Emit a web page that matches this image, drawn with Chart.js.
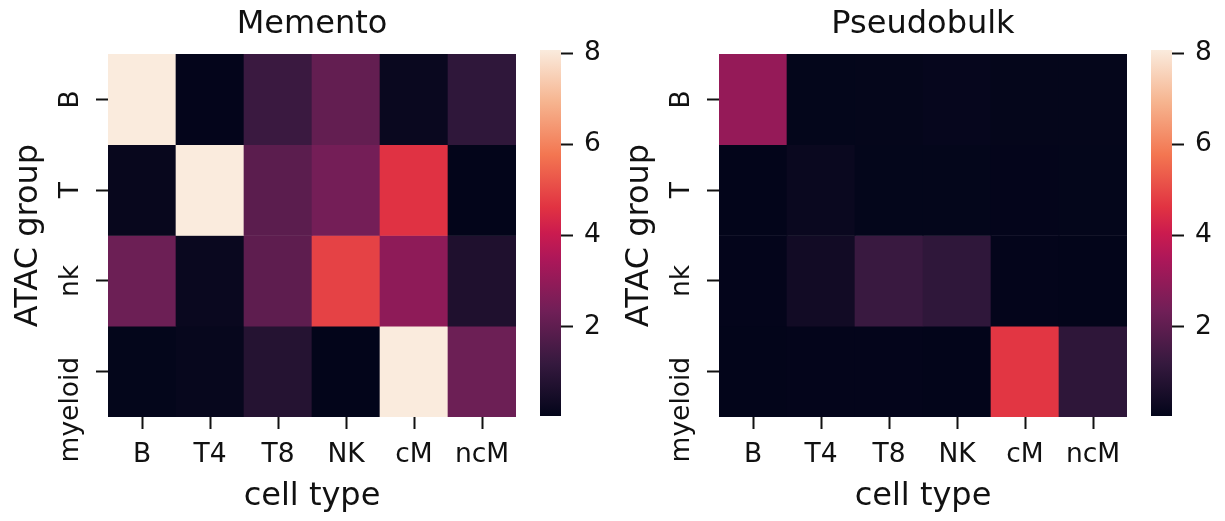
<!DOCTYPE html>
<html>
<head>
<meta charset="utf-8">
<script src="https://cdn.jsdelivr.net/npm/chart.js@4.4.1/dist/chart.umd.min.js"></script>
<style>
html, body { margin: 0; padding: 0; background: #ffffff; }
#wrap { position: relative; width: 1225px; height: 521px; overflow: hidden; background: #ffffff; }
#wrap canvas { position: absolute; left: 0; top: 0; }
</style>
</head>
<body>
<div id="wrap">
  <canvas id="hmL" width="1225" height="521"></canvas>
  <canvas id="cbL" width="1225" height="521"></canvas>
  <canvas id="hmR" width="1225" height="521"></canvas>
  <canvas id="cbR" width="1225" height="521"></canvas>
</div>
<script>
// ---------------- data ----------------
const cellTypes = ['B', 'T4', 'T8', 'NK', 'cM', 'ncM'];
const atacGroups = ['B', 'T', 'nk', 'myeloid'];

// rows follow atacGroups, columns follow cellTypes
const mementoValues = [
  [8.07, 0.06, 1.28, 2.08, 0.20, 1.05],
  [0.15, 8.07, 1.93, 2.41, 4.60, 0.05],
  [2.26, 0.20, 1.98, 4.88, 2.90, 0.68],
  [0.07, 0.13, 0.82, 0.05, 8.07, 2.26]
];
const pseudobulkValues = [
  [3.03, 0.07, 0.08, 0.12, 0.08, 0.08],
  [0.05, 0.20, 0.07, 0.07, 0.06, 0.07],
  [0.06, 0.38, 1.27, 1.05, 0.06, 0.05],
  [0.05, 0.06, 0.06, 0.05, 4.67, 1.03]
];
const colorbarTicks = [2, 4, 6, 8];
const colorMin = 0.04;
const colorMax = 8.07;
const panelTitles = ['Memento', 'Pseudobulk'];
const xAxisTitle = 'cell type';
const yAxisTitle = 'ATAC group';

// ---------------- style ----------------
const FAMILY = "'DejaVu Sans', 'Liberation Sans', sans-serif";
const INK = '#111111';
Chart.defaults.font.family = FAMILY;
Chart.defaults.color = INK;

// seaborn "rocket" colormap anchors
const rocketStops = [
  [0.000, [3, 5, 26]],
  [0.143, [53, 25, 62]],
  [0.286, [112, 31, 87]],
  [0.429, [173, 23, 89]],
  [0.500, [203, 27, 79]],
  [0.571, [225, 51, 66]],
  [0.714, [243, 118, 81]],
  [0.857, [246, 180, 143]],
  [1.000, [250, 235, 221]]
];
function rocket(t) {
  t = Math.max(0, Math.min(1, t));
  for (let k = 1; k < rocketStops.length; k++) {
    const [t1, c1] = rocketStops[k];
    const [t0, c0] = rocketStops[k - 1];
    if (t <= t1) {
      const f = (t - t0) / (t1 - t0);
      const c = c0.map((v, i) => Math.round(v + f * (c1[i] - v)));
      return `rgb(${c[0]},${c[1]},${c[2]})`;
    }
  }
  const c = rocketStops[rocketStops.length - 1][1];
  return `rgb(${c[0]},${c[1]},${c[2]})`;
}
const norm = v => (v - colorMin) / (colorMax - colorMin);

// rotated row labels drawn at the library's y scale tick positions
const rowLabelPlugin = {
  id: 'rowLabels',
  afterDraw(chart, args, opts) {
    const ys = chart.scales.y;
    const ctx = chart.ctx;
    ctx.save();
    ctx.font = `${opts.size}px ${FAMILY}`;
    ctx.fillStyle = INK;
    ctx.textAlign = 'center';
    ctx.textBaseline = 'alphabetic';
    ys.ticks.forEach(t => {
      const name = atacGroups[t.value];
      const py = ys.getPixelForValue(t.value) + ((opts.shift && opts.shift[name]) || 0);
      ctx.save();
      ctx.translate(ys.right - opts.offset, py);
      ctx.rotate(-Math.PI / 2);
      ctx.fillText(name, 0, 0);
      ctx.restore();
    });
    ctx.restore();
  }
};

const W = 1225, H = 521;
const TICK_FONT = 26.5;
const LABEL_FONT = 32;
const Y_AXIS_W = 108;
const X_AXIS_H = 104;

function heatmap(id, title, values, area) {
  const datasets = atacGroups.map((g, i) => ({
    label: g,
    data: cellTypes.map(() => [i - 0.5, i + 0.5]),
    backgroundColor: values[i].map(v => rocket(norm(v))),
    borderWidth: 0,
    grouped: false,
    barPercentage: 1,
    categoryPercentage: 1
  }));
  return new Chart(document.getElementById(id), {
    type: 'bar',
    data: { labels: cellTypes, datasets },
    plugins: [rowLabelPlugin],
    options: {
      responsive: false,
      animation: false,
      events: [],
      layout: { padding: { left: area.left - Y_AXIS_W, right: W - area.right, top: 0, bottom: 0 } },
      plugins: {
        legend: { display: false },
        tooltip: { enabled: false },
        title: {
          display: true, text: title, fullSize: false, color: INK,
          font: { size: LABEL_FONT, weight: 'normal', lineHeight: 1 },
          padding: { top: 8.5, bottom: 13.5 }
        },
        rowLabels: { size: TICK_FONT, offset: 30, shift: { myeloid: 38 } }
      },
      scales: {
        x: {
          type: 'category',
          offset: true,
          grid: { display: true, offset: false, drawOnChartArea: false, drawTicks: true, tickLength: 12, tickWidth: 2, tickColor: INK },
          border: { display: false },
          ticks: { font: { size: TICK_FONT, lineHeight: 1 }, color: INK, padding: 13, minRotation: 0, maxRotation: 0, autoSkip: false },
          title: { display: true, text: xAxisTitle, color: INK, font: { size: LABEL_FONT, lineHeight: 1 }, padding: { top: 0, bottom: 8.5 } },
          afterFit: s => { s.height = X_AXIS_H; }
        },
        y: {
          type: 'linear',
          reverse: true,
          min: -0.5,
          max: atacGroups.length - 0.5,
          afterBuildTicks: s => { s.ticks = atacGroups.map((_, i) => ({ value: i })); },
          grid: { display: true, drawOnChartArea: false, drawTicks: true, tickLength: 12, tickWidth: 2, tickColor: INK },
          border: { display: false },
          ticks: { display: false },
          title: { display: true, text: yAxisTitle, color: INK, font: { size: LABEL_FONT, lineHeight: 1 }, padding: { top: 12.5, bottom: 0 } },
          afterFit: s => { s.width = Y_AXIS_W; }
        }
      }
    }
  });
}

function colorbarGradient(chart) {
  const a = chart.chartArea;
  if (!a) return rocket(0.5);
  const g = chart.ctx.createLinearGradient(0, a.bottom, 0, a.top);
  rocketStops.forEach(([t, c]) => g.addColorStop(t, `rgb(${c[0]},${c[1]},${c[2]})`));
  return g;
}

function colorbar(id, area) {
  const AXIS_W = 60;
  return new Chart(document.getElementById(id), {
    type: 'bar',
    data: {
      labels: [''],
      datasets: [{
        data: [[colorMin, colorMax]],
        backgroundColor: c => colorbarGradient(c.chart),
        borderWidth: 0,
        barPercentage: 1,
        categoryPercentage: 1
      }]
    },
    options: {
      responsive: false,
      animation: false,
      events: [],
      layout: { padding: { left: area.left, right: W - area.right - AXIS_W, top: area.top, bottom: H - area.bottom } },
      plugins: { legend: { display: false }, tooltip: { enabled: false } },
      scales: {
        x: { display: false },
        y: {
          position: 'right',
          min: colorMin,
          max: colorMax,
          afterBuildTicks: s => { s.ticks = colorbarTicks.map(v => ({ value: v })); },
          grid: { display: true, drawOnChartArea: false, drawTicks: true, tickLength: 12, tickWidth: 2, tickColor: INK },
          border: { display: false },
          ticks: { font: { size: TICK_FONT, lineHeight: 1 }, color: INK, padding: 11 },
          afterFit: s => { s.width = AXIS_W; }
        }
      }
    }
  });
}

heatmap('hmL', panelTitles[0], mementoValues, { left: 108, right: 516 });
colorbar('cbL', { left: 540, right: 561, top: 50, bottom: 416 });
heatmap('hmR', panelTitles[1], pseudobulkValues, { left: 719, right: 1127 });
colorbar('cbR', { left: 1151, right: 1172, top: 50, bottom: 416 });
</script>
</body>
</html>
